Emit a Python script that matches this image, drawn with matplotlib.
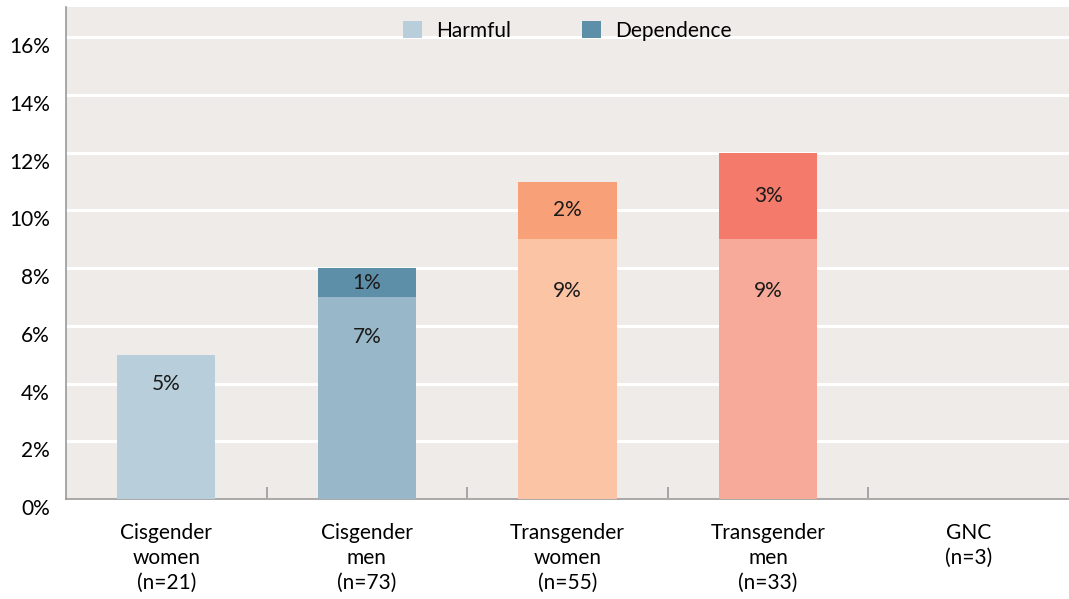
import matplotlib.pyplot as plt
import matplotlib.transforms as mtransforms
import numpy as np

plt.rcParams['font.family'] = ['Lato', 'DejaVu Sans']

categories = ['Cisgender\nwomen\n(n=21)', 'Cisgender\nmen\n(n=73)', 'Transgender\nwomen\n(n=55)',
              'Transgender\nmen\n(n=33)', 'GNC\n(n=3)']
harmful = [5, 7, 9, 9, 0]
dependence = [0, 1, 2, 3, 0]

harm_colors = ['#b8cfdb', '#98b7c8', '#fac4a5', '#f7aa9a', '#b8cfdb']
dep_colors = ['#5e8fa8', '#5e8fa8', '#f8a077', '#f47b6b', '#5e8fa8']
bg = '#efebe8'
fs = 15

fig = plt.figure(figsize=(10.69, 5.99), dpi=100)
ax = fig.add_axes([66 / 1069, 100 / 599, 1003 / 1069, 492 / 599])
ax.set_facecolor(bg)

x = np.arange(len(categories))
ax.bar(x, harmful, width=0.49, color=harm_colors, zorder=3)
ax.bar(x, dependence, width=0.49, bottom=harmful, color=dep_colors, zorder=3)

for i in range(len(categories)):
    if harmful[i] > 0:
        ax.text(x[i], harmful[i] * 0.8, f'{harmful[i]}%', ha='center', va='center',
                fontsize=fs, color='#1a1a1a', zorder=4)
    if dependence[i] > 0:
        ax.text(x[i], harmful[i] + dependence[i] / 2, f'{dependence[i]}%', ha='center',
                va='center', fontsize=fs, color='#1a1a1a', zorder=4)

# legend
ax.bar([0], [0], color='#b8cfdb', label='Harmful')
ax.bar([0], [0], color='#5e8fa8', label='Dependence')
leg = ax.legend(loc='upper center', bbox_to_anchor=(0.5, 1.01), ncol=2, frameon=False,
                fontsize=fs, handlelength=0.9, handleheight=0.9, columnspacing=3.4,
                handletextpad=0.7)

ax.set_xlim(-0.5, 4.5)
ax.set_ylim(0, 17.05)
ax.set_yticks(range(0, 17, 2))
ax.set_yticklabels([f'{v}%' for v in range(0, 17, 2)])
ax.set_xticks(x)
ax.set_xticklabels(categories, linespacing=1.32)
ax.set_xticks(x[:-1] + 0.5, minor=True)
ax.tick_params(axis='x', which='major', length=0, pad=17, labelsize=fs)
ax.tick_params(axis='x', which='minor', length=9, direction='in', color='#999999', width=1.2)
ax.tick_params(axis='y', length=0, pad=11.5, labelsize=fs)

# y labels sit a little below their gridlines
off = mtransforms.ScaledTranslation(0, -8 / 100, fig.dpi_scale_trans)
for lab in ax.get_yticklabels():
    lab.set_transform(lab.get_transform() + off)

ax.grid(axis='y', color='white', linewidth=2.2, zorder=1)
for s in ['top', 'right']:
    ax.spines[s].set_visible(False)
ax.spines['left'].set_color('#999999')
ax.spines['bottom'].set_color('#999999')
ax.spines['left'].set_linewidth(1.2)
ax.spines['bottom'].set_linewidth(1.2)
ax.set_axisbelow(True)

plt.savefig('out.png', dpi=100)
